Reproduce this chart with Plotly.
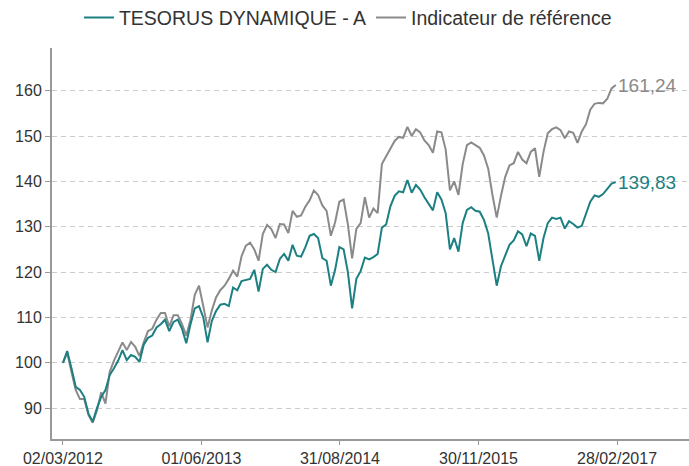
import pandas as pd
import plotly.graph_objects as go

dates = pd.date_range("2012-03-02", periods=131, freq="14D")

fund = [100.0, 102.6, 98.8, 94.7, 94.0, 92.5, 88.8, 87.0, 90.0, 92.5,
        94.0, 97.3, 98.8, 100.5, 102.8, 100.6, 101.7, 101.3, 100.2, 104.0,
        105.5, 106.0, 107.8, 108.5, 109.5, 107.0, 109.0, 109.5, 107.5, 104.3,
        108.5, 112.0, 112.5, 110.0, 104.5, 109.2, 111.4, 112.8, 113.0, 112.5,
        116.6, 116.0, 118.0, 118.3, 118.5, 120.5, 115.7, 120.7, 121.6, 120.5,
        120.0, 122.9, 124.0, 122.5, 126.0, 123.6, 123.4, 125.5, 128.0, 128.4,
        127.5, 123.1, 122.5, 117.0, 120.5, 125.5, 125.0, 120.0, 112.0, 118.5,
        120.2, 123.2, 122.8, 123.3, 124.0, 129.8, 130.5, 134.5, 136.8, 137.8,
        137.6, 140.3, 137.5, 139.2, 138.2, 136.5, 134.9, 133.6, 137.6, 136.0,
        133.0, 125.0, 127.5, 124.5, 130.8, 133.7, 134.3, 133.5, 133.3, 131.5,
        128.5, 122.3, 117.0, 121.3, 123.8, 126.0, 127.0, 129.0, 128.3, 125.7,
        128.5, 128.0, 122.5, 127.5, 130.8, 132.0, 131.7, 132.0, 129.6, 131.2,
        130.6, 129.8, 130.2, 133.0, 135.5, 136.9, 136.6, 137.2, 138.3, 139.5,
        139.83]

bench = [100.0, 102.2, 98.0, 94.0, 92.0, 92.0, 88.5, 86.8, 89.5, 93.5,
         91.0, 98.0, 100.5, 102.5, 104.5, 102.8, 104.6, 103.5, 101.5, 104.5,
         107.0, 107.5, 109.5, 111.0, 111.0, 108.0, 110.5, 110.5, 108.5, 106.0,
         109.5, 115.0, 117.0, 112.5, 107.8, 111.5, 114.4, 116.0, 117.0, 118.5,
         120.3, 119.0, 123.5, 125.8, 126.5, 125.0, 122.5, 128.4, 130.4, 129.5,
         127.5, 130.6, 130.5, 128.6, 133.5, 132.2, 132.5, 134.4, 135.8, 138.0,
         137.0, 134.7, 133.5, 128.0, 131.0, 135.5, 136.0, 130.5, 123.0, 129.5,
         130.8, 136.5, 132.0, 134.0, 133.0, 143.8, 145.5, 147.5, 148.9, 149.8,
         149.6, 152.0, 150.0, 151.5, 150.8, 149.0, 148.0, 146.3, 151.0, 150.8,
         147.0, 138.0, 140.0, 137.0, 143.8, 148.0, 148.6, 148.0, 147.4, 145.7,
         142.8, 137.0, 132.0, 136.8, 141.0, 143.5, 144.0, 146.5, 144.8, 144.0,
         146.5, 147.3, 141.0, 146.5, 150.6, 151.5, 151.9, 151.3, 149.5, 151.0,
         150.7, 148.5, 151.0, 152.6, 155.8, 157.1, 157.3, 157.2, 158.2, 160.5,
         161.24]

series_names = ["TESORUS DYNAMIQUE - A", "Indicateur de référence"]
tick_dates = ["2012-03-02", "2013-06-01", "2014-08-31", "2015-11-30", "2017-02-28"]
tick_labels = ["02/03/2012", "01/06/2013", "31/08/2014", "30/11/2015", "28/02/2017"]
y_ticks = [90, 100, 110, 120, 130, 140, 150, 160]

TEAL = "#1c7f82"
GRAY = "#8a8a8a"
FONT = "Liberation Sans, Arial, sans-serif"

fig = go.Figure()
fig.add_trace(go.Scatter(x=dates, y=bench, mode="lines", name=series_names[1],
                         line=dict(color=GRAY, width=2)))
fig.add_trace(go.Scatter(x=dates, y=fund, mode="lines", name=series_names[0],
                         line=dict(color=TEAL, width=2)))

def fmt(v):
    return f"{v:.2f}".replace(".", ",")

fig.add_annotation(x=dates[-1], y=bench[-1], text=fmt(bench[-1]), showarrow=False,
                   xanchor="left", yanchor="middle", xshift=0,
                   font=dict(color=GRAY, size=19, family=FONT))
fig.add_annotation(x=dates[-1], y=fund[-1], text=fmt(fund[-1]), showarrow=False,
                   xanchor="left", yanchor="middle", xshift=0,
                   font=dict(color=TEAL, size=19, family=FONT))

fig.update_layout(
    width=689, height=466,
    margin=dict(l=52, r=0, t=48, b=27, autoexpand=False),
    plot_bgcolor="white", paper_bgcolor="white",
    font=dict(family=FONT, color="#333333", size=17),
    legend=dict(orientation="h", x=0.505, xanchor="center", xref="container",
                y=0.962, yanchor="middle", yref="container",
                traceorder="reversed",
                font=dict(size=19.5, color="#333333")),
    showlegend=True,
)

fig.update_xaxes(
    range=["2012-01-26", "2017-10-23"],
    tickvals=tick_dates, ticktext=tick_labels, automargin=False,
    showgrid=False, showline=True, linecolor="#999999", linewidth=2,
    ticks="outside", ticklen=4, tickcolor="#999999", tickwidth=1,
    tickfont=dict(size=16, color="#333333"), zeroline=False,
)
fig.update_yaxes(
    range=[83.2, 169.4], tickvals=y_ticks, automargin=False,
    showgrid=True, gridcolor="#cccccc", griddash="5px,4px", gridwidth=1,
    showline=True, linecolor="#999999", linewidth=2,
    ticks="outside", ticklen=5, tickcolor="#999999", tickwidth=1,
    tickfont=dict(size=16, color="#333333"), zeroline=False,
)

fig.write_html("out.html", config={"displayModeBar": False})

with open("out.html", "r", encoding="utf-8") as f:
    html = f.read()
html = html.replace("<head>", "<head><style>html,body{margin:0;padding:0;overflow:hidden;}</style>", 1)
with open("out.html", "w", encoding="utf-8") as f:
    f.write(html)
